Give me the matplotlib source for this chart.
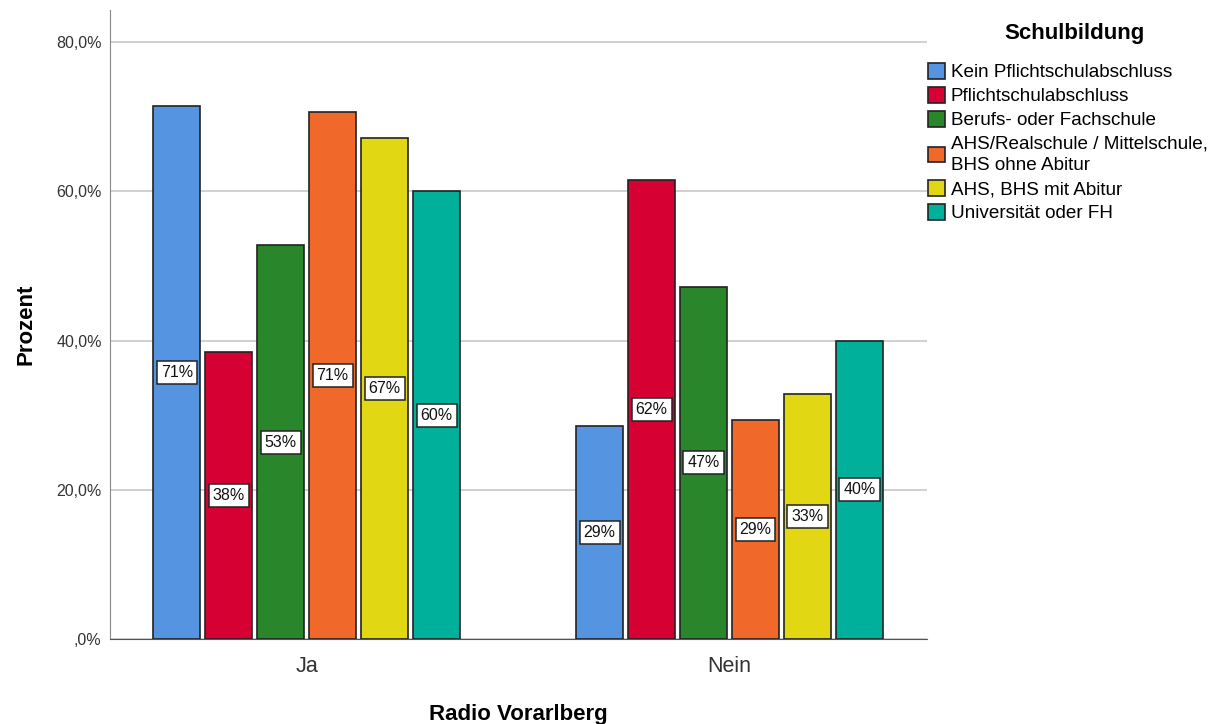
import matplotlib.pyplot as plt
from matplotlib.patches import Patch
import numpy as np

plt.rcParams['font.family'] = ['Liberation Sans', 'DejaVu Sans']

groups = ['Ja', 'Nein']
categories = ['Kein Pflichtschulabschluss', 'Pflichtschulabschluss',
              'Berufs- oder Fachschule',
              'AHS/Realschule / Mittelschule,\nBHS ohne Abitur',
              'AHS, BHS mit Abitur', 'Universität oder FH']
colors = ['#5594E0', '#D70032', '#2A862A', '#F1682B', '#E1D712', '#00B09B']
ja_vals = [71.4, 38.5, 52.8, 70.6, 67.1, 60.0]
nein_vals = [28.6, 61.5, 47.2, 29.4, 32.9, 40.0]
yticks = [0, 20, 40, 60, 80]
ytick_labels = [',0%', '20,0%', '40,0%', '60,0%', '80,0%']

values = np.array([ja_vals, nein_vals])

fig = plt.figure(figsize=(12.3, 7.24), dpi=100)
ax = fig.add_axes([110 / 1230, 85 / 724, 817 / 1230, 629 / 724])

step = 0.1229
width = 0.111
x = np.arange(len(groups))
for i, (cat, col) in enumerate(zip(categories, colors)):
    pos = x + (i - 2.5) * step
    ax.bar(pos, values[:, i], width, color=col, edgecolor='#222222',
           linewidth=1.2, zorder=3)
    for px, v in zip(pos, values[:, i]):
        ax.text(px, v / 2, f'{v:.0f}%', ha='center', va='center', fontsize=11.5,
                color='#111111', zorder=4,
                bbox=dict(boxstyle='square,pad=0.25', fc='white', ec='#222222', lw=1.1))

ax.set_xlim(-0.465, 1.467)
ax.set_ylim(0, 84.3)
ax.set_yticks(yticks)
ax.set_yticklabels(ytick_labels, fontsize=11.5, color='#333333')
ax.set_xticks(x)
ax.set_xticklabels(groups, fontsize=15.5, color='#333333')
ax.tick_params(axis='y', length=0, pad=6)
ax.tick_params(axis='x', length=0, pad=12)
ax.grid(axis='y', color='#c8c8c8', linewidth=1.2, zorder=0)
for s in ['top', 'right']:
    ax.spines[s].set_visible(False)
ax.spines['left'].set_color('#888888')
ax.spines['bottom'].set_color('#555555')

ax.set_ylabel('Prozent', fontsize=16, fontweight='bold', labelpad=14)
ax.set_xlabel('Radio Vorarlberg', fontsize=16, fontweight='bold', labelpad=20)

# legend: title drawn separately so the gap matches
fig.text(1074 / 1230, 1 - 33 / 724, 'Schulbildung', ha='center', va='center',
         fontsize=16, fontweight='bold')
handles = [Patch(facecolor=c, edgecolor='#222222', linewidth=1.2) for c in colors]
leg = fig.legend(handles, categories, loc='upper left',
                 bbox_to_anchor=(928 / 1230, 1 - 63 / 724), frameon=False,
                 fontsize=13.6, borderpad=0,
                 handlelength=0.9, handleheight=0.9, handletextpad=0.3,
                 labelspacing=0.3, borderaxespad=0)
for t in leg.get_texts():
    t.set_linespacing(1.4)

fig.savefig('out.png', dpi=100)
